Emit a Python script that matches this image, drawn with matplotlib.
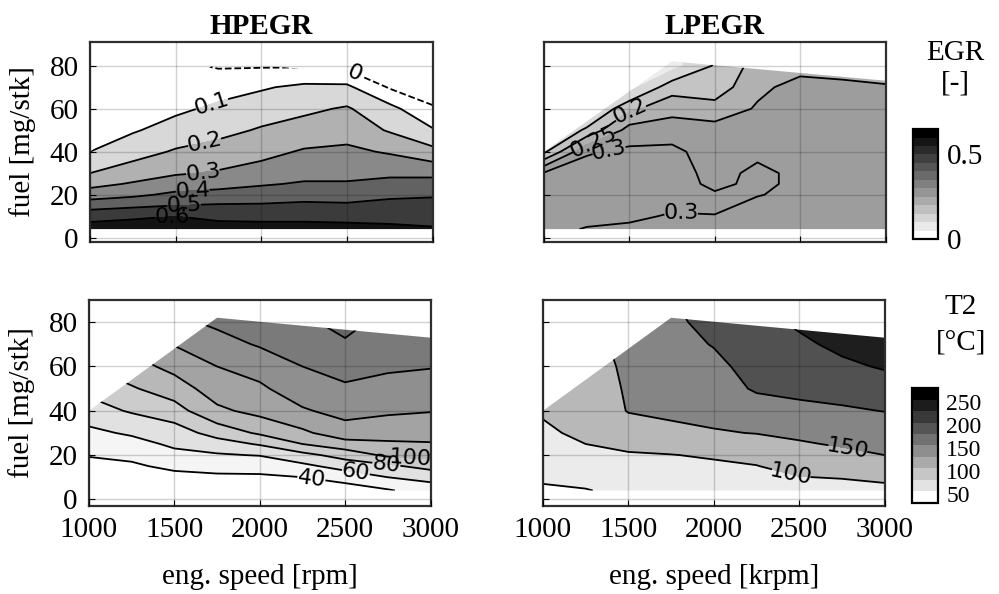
import numpy as np
import matplotlib
matplotlib.use('Agg')
import matplotlib.pyplot as plt
from matplotlib.patches import Polygon
from matplotlib.colors import Normalize
from matplotlib.cm import ScalarMappable

plt.rcParams['font.family'] = 'Liberation Serif'
plt.rcParams['font.size'] = 21

# grid of the engine map
speed = [1000, 1250, 1500, 1750, 2000, 2250, 2500, 2750, 3000]
fuel = [4, 10, 15, 20, 25, 30, 40, 50, 60, 70, 80, 90]

# operating envelope (max fuel line, min fuel)
env_speed = [1000, 1750, 3000]
env_fuel_max = [40, 82, 73]
env_fuel_min = 4

# EGR rate, one row per speed (values along fuel)
egr_hp = [
    [0.65, 0.56, 0.46, 0.35, 0.27, 0.20, 0.10, 0.06, 0.04, 0.03, 0.02, 0.01],
    [0.66, 0.58, 0.48, 0.38, 0.31, 0.25, 0.16, 0.09, 0.05, 0.03, 0.02, 0.01],
    [0.66, 0.60, 0.50, 0.42, 0.35, 0.29, 0.21, 0.14, 0.08, 0.04, 0.02, 0.01],
    [0.65, 0.57, 0.51, 0.43, 0.37, 0.31, 0.24, 0.17, 0.12, 0.06, -0.01, -0.05],
    [0.64, 0.57, 0.51, 0.45, 0.39, 0.34, 0.27, 0.21, 0.15, 0.09, -0.01, -0.05],
    [0.64, 0.57, 0.52, 0.46, 0.41, 0.37, 0.31, 0.24, 0.18, 0.12, -0.01, -0.05],
    [0.63, 0.57, 0.51, 0.47, 0.41, 0.37, 0.32, 0.26, 0.21, 0.12, -0.03, -0.08],
    [0.62, 0.57, 0.53, 0.48, 0.43, 0.38, 0.29, 0.19, 0.13, -0.01, -0.05, -0.10],
    [0.61, 0.56, 0.53, 0.49, 0.43, 0.38, 0.23, 0.11, 0.01, -0.05, -0.10, -0.15],
]
egr_lp = [
    [0.31, 0.31, 0.32, 0.32, 0.32, 0.305, 0.14, 0.08, 0.08, 0.08, 0.08, 0.08],
    [0.298, 0.31, 0.31, 0.32, 0.32, 0.32, 0.295, 0.16, 0.08, 0.08, 0.08, 0.08],
    [0.29, 0.31, 0.32, 0.33, 0.33, 0.33, 0.31, 0.27, 0.19, 0.08, 0.08, 0.08],
    [0.28, 0.295, 0.31, 0.32, 0.32, 0.32, 0.31, 0.28, 0.23, 0.18, 0.08, 0.08],
    [0.28, 0.298, 0.31, 0.305, 0.29, 0.285, 0.28, 0.27, 0.22, 0.17, 0.155, 0.14],
    [0.28, 0.285, 0.29, 0.302, 0.31, 0.31, 0.29, 0.285, 0.255, 0.24, 0.22, 0.20],
    [0.28, 0.285, 0.285, 0.29, 0.29, 0.29, 0.285, 0.28, 0.275, 0.265, 0.235, 0.22],
    [0.28, 0.28, 0.285, 0.29, 0.29, 0.29, 0.29, 0.285, 0.275, 0.258, 0.235, 0.22],
    [0.28, 0.28, 0.285, 0.29, 0.29, 0.29, 0.29, 0.285, 0.27, 0.252, 0.238, 0.22],
]

# intake temperature T2 [degC]
t2_hp = [
    [25, 31, 35, 41, 48, 55, 72, 85, 100, 115, 130, 145],
    [28, 34, 38, 43, 52, 63, 82, 98, 112, 125, 140, 155],
    [30, 36, 43, 54, 64, 70, 92, 110, 126, 141, 155, 170],
    [31, 37, 46, 58, 71, 88, 116, 130, 140, 152, 164, 175],
    [32, 38, 45, 61, 82, 103, 126, 137, 147, 162, 172, 182],
    [34, 40, 55, 74, 100, 116, 138, 150, 160, 168, 177, 185],
    [30, 48, 68, 88, 112, 132, 146, 158, 165, 178, 185, 188],
    [38, 60, 76, 104, 117, 128, 143, 153, 163, 168, 175, 182],
    [50, 66, 87, 108, 119, 125, 141, 151, 161, 168, 175, 182],
]
t2_lp = [
    [45, 55, 65, 75, 85, 92, 105, 115, 125, 135, 145, 155],
    [48, 62, 72, 86, 100, 110, 120, 135, 140, 143, 146, 150],
    [60, 72, 82, 96, 110, 130, 152, 153, 154, 156, 158, 160],
    [70, 80, 90, 99, 115, 135, 162, 172, 180, 186, 192, 198],
    [72, 84, 94, 104, 118, 145, 170, 180, 190, 202, 212, 220],
    [75, 88, 99, 110, 125, 152, 180, 205, 215, 225, 235, 245],
    [80, 99, 112, 125, 145, 160, 190, 210, 225, 240, 258, 270],
    [85, 102, 118, 138, 155, 170, 195, 215, 240, 262, 275, 285],
    [92, 106, 125, 150, 165, 178, 201, 225, 255, 270, 280, 290],
]

egr_hp_fill = [0, 0.1, 0.2, 0.3, 0.4, 0.5, 0.6, 0.7]
egr_hp_lines = [0, 0.1, 0.2, 0.3, 0.4, 0.5, 0.6]
egr_lp_fill = [0, 0.05, 0.1, 0.15, 0.2, 0.25, 0.35, 0.45, 0.55, 0.65]
egr_lp_lines = [0.15, 0.2, 0.25, 0.3]
t2_hp_fill = [20, 40, 60, 80, 100, 120, 140, 160, 180, 200]
t2_hp_lines = [40, 60, 80, 100, 120, 140, 160, 180]
t2_lp_fill = [0, 50, 100, 150, 200, 250, 300]
t2_lp_lines = [50, 100, 150, 200, 250]

# where the contour labels go (speed, fuel)
egr_hp_labels = [(1717, 61), (1670, 44), (1660, 30), (1600, 21.5), (1550, 15.5), (1480, 9.5), (2545, 77)]
egr_lp_labels = [(1503, 59), (1290, 44), (1385, 39), (1802, 10.5)]
t2_hp_labels = [(2300, 8), (2560, 11), (2740, 15), (2880, 18)]
t2_lp_labels = [(2780, 21), (2450, 10.5)]

cmap = plt.get_cmap('gray_r')
egr_norm = Normalize(0, 0.65)
t2_norm = Normalize(30, 280)


def draw_map(ax, table, fill_levels, line_levels, norm, label_xy, ylim):
    ax.set_xlim(1000, 3000)
    ax.set_ylim(*ylim)
    z = np.array(table).T
    # each band gets the colour of its lower level
    colors = [cmap(norm(lv)) for lv in fill_levels[:-1]]
    cf = ax.contourf(speed, fuel, z, levels=fill_levels, colors=colors)
    styles = ['--' if lv == 0 else '-' for lv in line_levels]
    cs = ax.contour(speed, fuel, z, levels=line_levels, colors='k',
                    linewidths=1.3, linestyles=styles)
    texts = ax.clabel(cs, fmt='%g', fontsize=16, manual=label_xy,
                      inline=True, inline_spacing=3)
    for t in texts:
        t.set_fontfamily('DejaVu Sans')
    verts = [(env_speed[0], env_fuel_min), (env_speed[-1], env_fuel_min)]
    verts += list(zip(env_speed[::-1], env_fuel_max[::-1]))
    envelope = Polygon(verts, closed=True, transform=ax.transData,
                       facecolor='none', edgecolor='none')
    ax.add_patch(envelope)
    cf.set_clip_path(envelope)
    cs.set_clip_path(envelope)

    ax.set_xticks([1000, 1500, 2000, 2500, 3000])
    ax.set_yticks([0, 20, 40, 60, 80])
    ax.grid(True, color='k', alpha=0.18, linewidth=1.0)
    ax.set_axisbelow(False)
    ax.tick_params(direction='in', length=4, pad=8, labelsize=21)
    for sp in ax.spines.values():
        sp.set_linewidth(1.6)
        sp.set_color('#303030')


fig = plt.figure(figsize=(9.99, 5.94), dpi=100)
ax_tl = fig.add_axes([0.090, 0.5926, 0.343, 0.3367])
ax_tr = fig.add_axes([0.5445, 0.5926, 0.342, 0.3367])
ax_bl = fig.add_axes([0.089, 0.1481, 0.342, 0.3468])
ax_br = fig.add_axes([0.5435, 0.1481, 0.342, 0.3468])

draw_map(ax_tl, egr_hp, egr_hp_fill, egr_hp_lines, egr_norm, egr_hp_labels, (-2, 91))
draw_map(ax_tr, egr_lp, egr_lp_fill, egr_lp_lines, egr_norm, egr_lp_labels, (-2, 91))
draw_map(ax_bl, t2_hp, t2_hp_fill, t2_hp_lines, t2_norm, t2_hp_labels, (-3, 90))
draw_map(ax_br, t2_lp, t2_lp_fill, t2_lp_lines, t2_norm, t2_lp_labels, (-3, 90))

ax_tl.set_title('HPEGR', fontweight='bold', fontsize=21, pad=6)
ax_tr.set_title('LPEGR', fontweight='bold', fontsize=21, pad=6)
for ax in (ax_tl, ax_tr):
    ax.tick_params(labelbottom=False)
for ax in (ax_tr, ax_br):
    ax.tick_params(labelleft=False)
for ax in (ax_tl, ax_bl):
    ax.set_ylabel('fuel [mg/stk]', labelpad=10)
ax_bl.set_xlabel('eng. speed [rpm]', labelpad=15)
ax_br.set_xlabel('eng. speed [krpm]', labelpad=15)

# colour bars
cax1 = fig.add_axes([0.914, 0.5976, 0.025, 0.185])
sm1 = ScalarMappable(norm=egr_norm, cmap=plt.get_cmap('gray_r', 13))
cb1 = fig.colorbar(sm1, cax=cax1, ticks=[0, 0.5])
cb1.ax.set_yticklabels(['0', '0.5'])
cb1.ax.tick_params(length=0, pad=6, labelsize=21)
cax2 = fig.add_axes([0.913, 0.1532, 0.026, 0.1936])
sm2 = ScalarMappable(norm=t2_norm, cmap=plt.get_cmap('gray_r', 10))
cb2 = fig.colorbar(sm2, cax=cax2, ticks=[50, 100, 150, 200, 250])
cb2.ax.tick_params(length=0, pad=6, labelsize=17)
for cb in (cb1, cb2):
    cb.outline.set_linewidth(1.6)

fig.text(0.956, 0.910, 'EGR', ha='center', va='center', fontsize=21)
fig.text(0.956, 0.860, '[-]', ha='center', va='center', fontsize=21)
fig.text(0.962, 0.483, 'T2', ha='center', va='center', fontsize=21)
fig.text(0.962, 0.423, '[°C]', ha='center', va='center', fontsize=21)

fig.savefig('out.png', dpi=100)
